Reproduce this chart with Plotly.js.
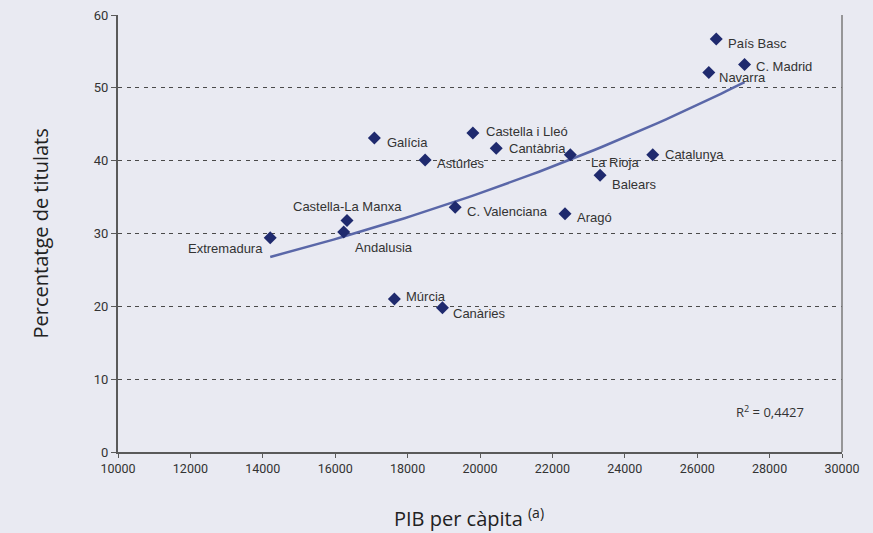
<!DOCTYPE html>
<html>
<head>
<meta charset="utf-8">
<script src="https://cdn.plot.ly/plotly-3.0.1.min.js"></script>
<style>
html,body{margin:0;padding:0;background:#e9eaf2;}
#chart{width:873px;height:533px;}
</style>
</head>
<body>
<div id="chart"></div>
<script>
// Data
const regions = ["Extremadura","Castella-La Manxa","Andalusia","Galícia","Astúries","Castella i Lleó","Cantàbria","C. Valenciana","Múrcia","Canàries","La Rioja","Balears","Aragó","Catalunya","País Basc","C. Madrid","Navarra"];
const pibPerCapita = [14205,16326,16235,17082,18484,19803,20448,19314,17635,18963,22495,23317,22348,24772,26526,27309,26321];
const pctTitulats = [29.4,31.8,30.2,43.1,40.1,43.8,41.7,33.6,21.0,19.8,40.8,38.0,32.7,40.8,56.7,53.2,52.1];
const xTicks = [10000,12000,14000,16000,18000,20000,22000,24000,26000,28000,30000];
const yTicks = [0,10,20,30,40,50,60];
const r2Text = "R<sup>2</sup> = 0,4427";

// Label placement (pixel offsets from each point), layout only
const labelDx = [-5,0,9,11,10,11,11,10,10,9,19,10,10,10,10,9,8];
const labelDy = [11,-14,15,4,4,-1,0,4,-3,6,8,9,4,0,4,2,5];
const labelAnchor = ["right","center","left","left","left","left","left","left","left","left","left","left","left","left","left","left","left"];

// Exponential trendline (least squares on ln y), spanning data range
const n = pibPerCapita.length;
let sx=0, sy=0, sxx=0, sxy=0;
for (let i=0;i<n;i++){const x=pibPerCapita[i], ly=Math.log(pctTitulats[i]); sx+=x; sy+=ly; sxx+=x*x; sxy+=x*ly;}
const b = (n*sxy - sx*sy)/(n*sxx - sx*sx);
const a = Math.exp((sy - b*sx)/n);
const xmin = Math.min(...pibPerCapita), xmax = Math.max(...pibPerCapita);
const tx=[], ty=[];
for (let k=0;k<=60;k++){const x = xmin + (xmax-xmin)*k/60; tx.push(x); ty.push(a*Math.exp(b*x));}

const traces = [
  {x: tx, y: ty, mode:'lines', line:{color:'#5a67a8', width:2.5}, hoverinfo:'skip', showlegend:false},
  {x: pibPerCapita, y: pctTitulats, mode:'markers', text: regions,
   marker:{symbol:'diamond', size:10, color:'#1f2a6e'}, showlegend:false}
];

const annotations = regions.map((r,i)=>({
  x: pibPerCapita[i], y: pctTitulats[i], xref:'x', yref:'y', text: r, showarrow:false,
  xanchor: labelAnchor[i], yanchor:'middle', xshift: labelDx[i], yshift: -labelDy[i],
  font:{family:'Liberation Sans, Arial, sans-serif', size:13, color:'#333333'}
}));
annotations.push({
  x: 28000, y: 5.5, xref:'x', yref:'y', text: r2Text, showarrow:false, xanchor:'center', yanchor:'middle',
  font:{family:'Open Sans, sans-serif', size:13, color:'#333333'}
});
annotations.push({
  x: 0, y: 0.5, xref:'paper', yref:'paper', xanchor:'center', yanchor:'middle', xshift:-78,
  text: 'Percentatge de titulats', textangle:-90, showarrow:false,
  font:{family:'Open Sans, sans-serif', size:20, color:'#222222'}
});
annotations.push({
  x: 0.5, y: 0, xref:'paper', yref:'paper', xanchor:'center', yanchor:'top', yshift:-49, xshift:-11,
  text: 'PIB per càpita <sup>(a)</sup>', showarrow:false,
  font:{family:'Open Sans, sans-serif', size:20, color:'#222222'}
});

const layout = {
  width: 873, height: 533,
  margin: {l:118, r:31, t:15, b:81},
  paper_bgcolor:'#e9eaf2', plot_bgcolor:'#e9eaf2',
  showlegend:false,
  xaxis: {
    range:[10000,30000], tickvals: xTicks, ticktext: xTicks.map(String),
    showgrid:false, zeroline:false, showline:true, linecolor:'#5a5a5a', linewidth:2,
    ticks:'outside', ticklen:4, tickcolor:'#5a5a5a', tickwidth:1,
    tickfont:{family:'Roboto, sans-serif', size:12.5, color:'#333333'},
    fixedrange:true
  },
  yaxis: {
    range:[0,60], tickvals: yTicks, ticktext: yTicks.map(String),
    showgrid:true, gridcolor:'#4a4a4a', gridwidth:1, griddash:'4px,4.5px',
    zeroline:false, showline:true, linecolor:'#5a5a5a', linewidth:2,
    ticks:'outside', ticklen:5, tickcolor:'#5a5a5a', tickwidth:1,
    tickfont:{family:'Roboto, sans-serif', size:13, color:'#333333'},
    fixedrange:true
  },
  shapes: [
    {type:'line', xref:'paper', yref:'paper', x0:1, x1:1, y0:0, y1:1, line:{color:'#7a7a7a', width:1.5}}
  ],
  annotations: annotations
};

Plotly.newPlot('chart', traces, layout, {displayModeBar:false, staticPlot:true});
</script>
</body>
</html>
